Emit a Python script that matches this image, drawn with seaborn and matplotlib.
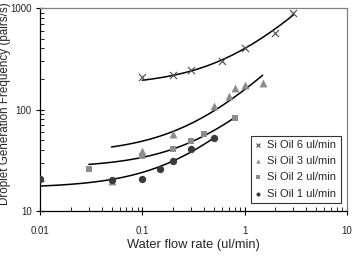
"""
Droplet generation frequency vs water flow rate, with linear trend lines
"""

import numpy as np
import pandas as pd
import matplotlib

matplotlib.use("Agg")
import matplotlib.pyplot as plt
import seaborn as sns
from matplotlib.ticker import LogLocator, NullFormatter, FixedLocator

# Data (water flow in ul/min, frequency in pairs/s)
water_6 = [0.1, 0.2, 0.3, 0.6, 1.0, 2.0, 3.0]
freq_6 = [209, 220, 245, 304, 400, 573, 890]

water_3 = [0.05, 0.1, 0.2, 0.5, 0.7, 0.8, 1.0, 1.5]
freq_3 = [20, 39, 57, 109, 135, 162, 175, 182]

water_2 = [0.03, 0.1, 0.2, 0.3, 0.4, 0.8]
freq_2 = [26, 35, 41, 49, 57, 82]

water_1 = [0.01, 0.05, 0.1, 0.15, 0.2, 0.3, 0.5]
freq_1 = [20.7, 20.3, 20.7, 26, 31, 41, 52]

labels = ["Si Oil 6 ul/min", "Si Oil 3 ul/min", "Si Oil 2 ul/min", "Si Oil 1 ul/min"]
x_ticks = [0.01, 0.1, 1, 10]
x_tick_labels = ["0.01", "0.1", "1", "10"]
y_ticks = [10, 100, 1000]
y_tick_labels = ["10", "100", "1000"]

series = [
    (water_6, freq_6, "x", "#4a4a4a", 26),
    (water_3, freq_3, "^", "#8c8c8c", 32),
    (water_2, freq_2, "s", "#8c8c8c", 24),
    (water_1, freq_1, "o", "#3a3a3a", 28),
]

sns.set_theme(style="white")
plt.rcParams["font.family"] = ["Liberation Sans", "DejaVu Sans"]

fig = plt.figure(figsize=(3.54, 2.59), dpi=100)
ax = fig.add_axes([0.113, 0.185, 0.867, 0.784])

for (xs, ys, marker, color, size), label in zip(series, labels):
    df = pd.DataFrame({"x": xs, "y": ys})
    sns.scatterplot(
        data=df,
        x="x",
        y="y",
        marker=marker,
        color=color,
        s=size,
        linewidth=0.8 if marker == "x" else 0,
        label=label,
        ax=ax,
        zorder=3,
    )
    # linear trend line (Excel style) over the data range
    slope, intercept = np.polyfit(xs, ys, 1)
    fx = np.logspace(np.log10(min(xs)), np.log10(max(xs)), 100)
    sns.lineplot(x=fx, y=slope * fx + intercept, color="black", linewidth=1.1,
                 ax=ax, zorder=2, legend=False)

ax.set_xscale("log")
ax.set_yscale("log")
ax.set_xlim(0.01, 10)
ax.set_ylim(10, 1000)

ax.xaxis.set_major_locator(FixedLocator(x_ticks))
ax.set_xticklabels(x_tick_labels)
ax.yaxis.set_major_locator(FixedLocator(y_ticks))
ax.set_yticklabels(y_tick_labels)
ax.xaxis.set_minor_locator(LogLocator(base=10, subs=np.arange(2, 10)))
ax.yaxis.set_minor_locator(LogLocator(base=10, subs=np.arange(2, 10)))
ax.xaxis.set_minor_formatter(NullFormatter())
ax.yaxis.set_minor_formatter(NullFormatter())

ax.tick_params(which="major", direction="inout", length=6, width=0.8,
               labelsize=7, color="black", bottom=True, left=True)
ax.tick_params(axis="x", which="major", pad=8)
ax.tick_params(axis="y", which="major", pad=3)
ax.tick_params(which="minor", direction="in", length=3, width=0.6,
               color="black", bottom=True, left=True)

for side in ["left", "bottom"]:
    ax.spines[side].set_color("black")
    ax.spines[side].set_linewidth(0.9)
for side in ["top", "right"]:
    ax.spines[side].set_color("#808080")
    ax.spines[side].set_linewidth(0.9)

ax.set_xlabel("Water flow rate (ul/min)", fontsize=9.3, labelpad=2)
ax.set_ylabel("Droplet Generation Frequency (pairs/s)", fontsize=8.4)
ax.yaxis.set_label_coords(-0.096, 0.53)

leg = ax.legend(
    loc="lower right",
    bbox_to_anchor=(0.98, 0.04),
    borderaxespad=0,
    fontsize=8,
    frameon=True,
    fancybox=False,
    handlelength=0.6,
    handletextpad=0.5,
    labelspacing=0.55,
    borderpad=0.4,
    markerscale=0.55,
)
leg.get_frame().set_edgecolor("black")
leg.get_frame().set_linewidth(0.8)

fig.savefig("out.png", dpi=100)
